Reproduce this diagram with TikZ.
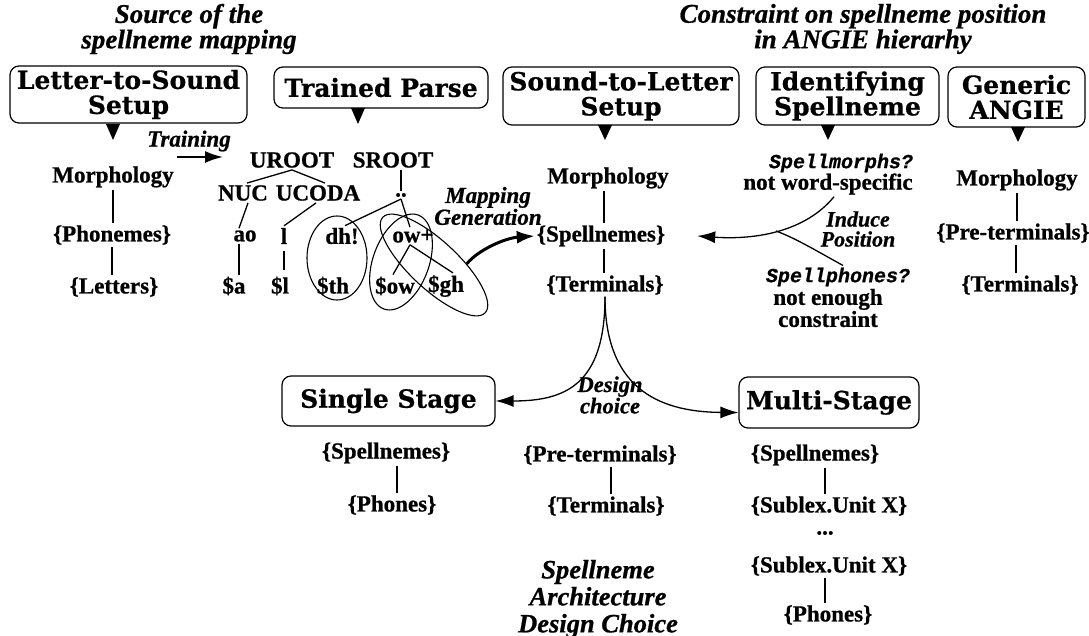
\documentclass[tikz,border=0pt]{standalone}
\usepackage{fontspec}
\setmainfont{Liberation Serif}[BoldFeatures={FakeBold=0.8},BoldItalicFeatures={FakeBold=0.8}]
\newfontfamily\boxf{DejaVu Serif}[BoldFeatures={FakeBold=0.6}]
\newfontfamily\courf{Liberation Mono}[BoldItalicFeatures={FakeBold=0.8}]
\usetikzlibrary{arrows.meta,shapes.geometric}
\begin{document}
\begin{tikzpicture}[x=1pt,y=-1pt,
 txt/.style={font=\fontsize{23}{25}\selectfont\bfseries, inner sep=2pt},
 hd/.style={font=\fontsize{27}{22}\selectfont\bfseries\itshape, align=center, inner sep=0pt},
 arch/.style={font=\fontsize{26.5}{27}\selectfont\bfseries\itshape, align=center, inner sep=0pt},
 lab/.style={font=\fontsize{23}{16}\selectfont\bfseries\itshape, align=center, inner sep=0pt},
 cour/.style={font=\courf\fontsize{20}{20}\selectfont\bfseries\itshape, inner sep=2pt},
 box/.style={draw, rounded corners=9pt, line width=1.2pt, font=\boxf\fontsize{25}{25}\selectfont\bfseries, align=center, inner sep=0pt},
 bar/.style={line width=2.6pt},
 tl/.style={line width=1.3pt},
 tip/.style={-{Latex[length=18pt,width=12pt]}},
 ell/.style={draw, ellipse, line width=1.1pt, inner sep=0pt},
]
\useasboundingbox (0,0) rectangle (1089,636);

% headings
\node[hd] (src) at (189,29) {Source of the\\spellneme mapping};
\node[hd] (cons) at (863,29) {Constraint on spellneme position\\in ANGIE hierarhy};

% boxes
\node[box, minimum width=237pt, minimum height=57pt] (lts) at (128.5,94.5) {Letter-to-Sound\\Setup};
\node[box, minimum width=214pt, minimum height=41pt] (tp) at (381,87.5) {Trained Parse};
\node[box, minimum width=236pt, minimum height=58pt] (stl) at (621,96) {Sound-to-Letter\\Setup};
\node[box, minimum width=183pt, minimum height=58pt] (ids) at (847.5,96) {Identifying\\Spellneme};
\node[box, minimum width=137pt, minimum height=60pt] (gen) at (1016.5,97) {Generic\\ANGIE};
\node[box, minimum width=213pt, minimum height=50pt] (single) at (388.5,401) {Single Stage};
\node[box, minimum width=180pt, minimum height=51pt] (multi) at (829,402.5) {Multi-Stage};

% pointers
\fill (106,124) -- (120,124) -- (113,140) -- cycle;
\fill (351,108) -- (365,108) -- (358,124) -- cycle;
\fill (598,125) -- (612,125) -- (605,140) -- cycle;
\fill (821,125) -- (835,125) -- (828,140) -- cycle;
\fill (1011,127) -- (1025,127) -- (1018,142) -- cycle;

% letter-to-sound column
\node[txt] (m1) at (113,177) {Morphology};
\node[txt] (p1) at (112,235) {\{Phonemes\}};
\node[txt] (l1) at (114,287) {\{Letters\}};
\draw[bar] (m1.south) -- (m1.south |- p1.north);
\draw[bar] (p1.south) -- (p1.south |- l1.north);

% training
\node[lab] (train) at (189,141) {Training};
\coordinate (tr0) at (177,157);
\coordinate (tr1) at (223,157);
\draw[line width=2pt, tip] (tr0) -- (tr1);

% parse tree
\node[txt] (uroot) at (292,160) {UROOT};
\node[txt] (sroot) at (393,160) {SROOT};
\node[txt] (nuc) at (243,193) {NUC};
\node[txt] (ucoda) at (318,193) {UCODA};
\node[txt] (dots) at (401,195) {..};
\node[txt] (ao) at (245,236) {ao};
\node[txt] (ll) at (284,236) {l};
\node[txt] (dh) at (342,236) {dh!};
\node[txt] (ow) at (413,236) {ow+};
\node[txt] (da) at (234,286) {\$a};
\node[txt] (dl) at (280,286) {\$l};
\node[txt] (dth) at (333,286) {\$th};
\node[txt] (dow) at (395,286) {\$ow};
\node[txt] (dgh) at (446,286) {\$gh};
\draw[tl] (uroot.south) -- ([xshift=4pt]nuc.north);
\draw[tl] (uroot.south) -- ([xshift=7pt]ucoda.north);
\draw[tl] (dots.north |- sroot.south) -- (dots.north);
\draw[tl] ([xshift=5pt]nuc.south) -- ([xshift=-6pt]ao.north);
\draw[tl] ([xshift=-2pt]ucoda.south) -- (ll.north);
\draw[tl] (dots.south) -- ([xshift=3pt]dh.north);
\draw[tl] (dots.south) -- ([xshift=-3pt]ow.north);
\draw[tl] ([xshift=-6pt]ao.south) -- ([xshift=5pt]da.north);
\draw[tl, shorten <=5pt, shorten >=5pt] (ll.south) -- (ll.south |- dl.north);
\draw[tl] ([xshift=-3pt]ow.south) -- ([xshift=-2pt]dow.north);
\draw[tl] ([xshift=-3pt]ow.south) -- ([xshift=7pt]dgh.north);

\node[ell, minimum width=60pt, minimum height=84pt] (e1) at (337,258) {};
\node[ell, minimum width=56pt, minimum height=100pt, rotate=-20] (e2) at (401,262) {};
\node[ell, minimum width=140pt, minimum height=48pt, rotate=-43] (e3) at (434,265) {};

% sound-to-letter column
\node[txt] (m2) at (608,178) {Morphology};
\node[txt] (sp2) at (601,236) {\{Spellnemes\}};
\node[txt] (t2) at (605,285) {\{Terminals\}};
\draw[bar] ([xshift=-4pt]m2.south) -- ([xshift=-4pt]m2.south |- sp2.north);
\draw[bar] ([xshift=-1pt]t2.north |- sp2.south) -- ([xshift=-1pt]t2.north);

% mapping generation
\node[lab, font=\fontsize{23}{17}\selectfont\bfseries\itshape] (map) at (488,206) {Mapping\\Generation};
\draw[line width=3pt, -{Latex[length=18pt,width=13pt]}] (e3.45) .. controls (478,250) and (505,238) .. (sp2.west);

% identifying spellneme
\node[cour] (smorph) at (841,163) {Spellmorphs?};
\node[txt] (nws) at (828,184) {not word-specific};
\node[lab, font=\fontsize{22}{20}\selectfont\bfseries\itshape] (ind) at (858,229) {Induce\\Position};
\node[cour] (sphon) at (838,277) {Spellphones?};
\node[txt, align=center, font=\fontsize{23}{16}\selectfont\bfseries] (nec) at (828,308) {not enough\\constraint};
\coordinate (jn) at (776,231);
\draw[tl, tip] ([xshift=6pt]nws.south) .. controls (805,232) and (755,240) .. ([xshift=30pt]sp2.east);
\draw[tl] ([xshift=5pt]sphon.north) .. controls (815,250) and (795,238) .. (jn);

% generic angie
\node[txt] (m3) at (1017,180) {Morphology};
\node[txt] (pt3) at (1013,233) {\{Pre-terminals\}};
\node[txt] (t3) at (1020,285) {\{Terminals\}};
\draw[bar] (m3.south) -- (m3.south |- pt3.north);
\draw[bar] ([xshift=-4pt]t3.north |- pt3.south) -- ([xshift=-4pt]t3.north);

% design choice
\draw[tl, tip] (t2.south) .. controls (605,385) and (565,401) .. (single.east);
\draw[tl, tip] (t2.south) .. controls (605,385) and (655,412) .. ([yshift=-10pt]multi.west);
\node[lab, font=\fontsize{22.5}{15}\selectfont\bfseries\itshape] (dc) at (610,395) {Design\\choice};

% single stage
\node[txt] (sp4) at (386,453) {\{Spellnemes\}};
\node[txt] (ph4) at (392,505) {\{Phones\}};
\draw[bar] ([xshift=11pt]sp4.south) -- ([xshift=5pt]ph4.north);

% centre
\node[txt] (pt5) at (600,455) {\{Pre-terminals\}};
\node[txt] (t5) at (606,506) {\{Terminals\}};
\draw[bar] ([xshift=11pt]pt5.south) -- ([xshift=5pt]t5.north);
\node[arch] (archl) at (598,599) {Spellneme\\Architecture\\Design Choice};

% multi stage
\node[txt] (sp6) at (815,455) {\{Spellnemes\}};
\node[txt] (su1) at (829,506) {\{Sublex.Unit X\}};
\node[txt] (dd) at (825,533) {...};
\node[txt] (su2) at (829,566) {\{Sublex.Unit X\}};
\node[txt] (ph6) at (828,615) {\{Phones\}};
\draw[bar] ([xshift=10pt]sp6.south) -- ([xshift=-4pt]su1.north);
\draw[bar] ([xshift=-4pt]su2.south) -- ([xshift=-3pt]ph6.north);
\end{tikzpicture}
\end{document}
